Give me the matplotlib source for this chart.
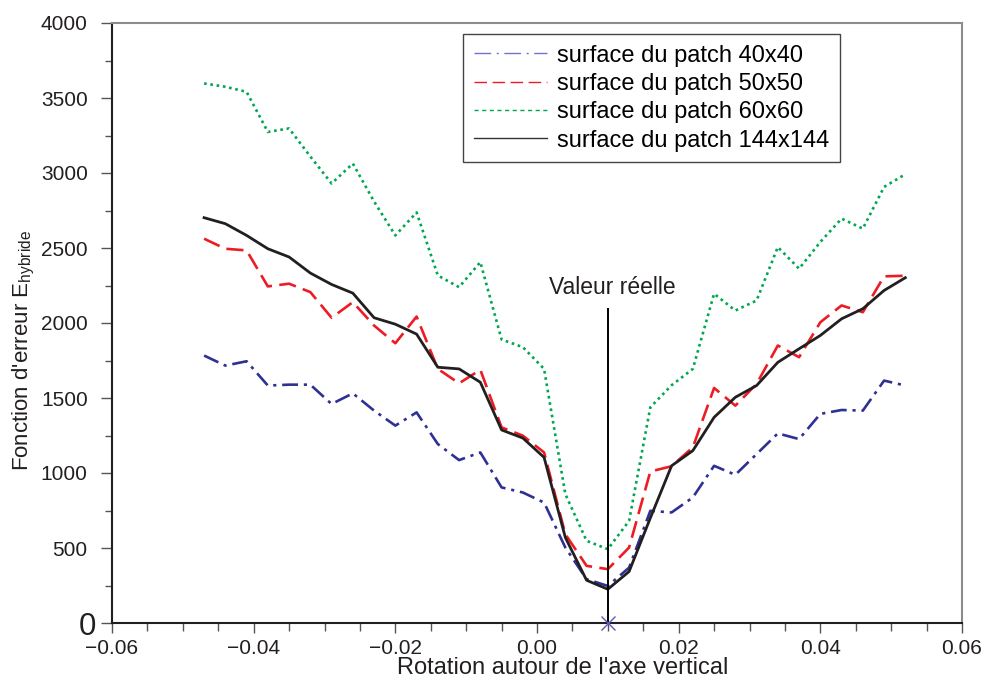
import matplotlib
matplotlib.use("Agg")
import matplotlib.pyplot as plt
from matplotlib.lines import Line2D
from matplotlib.ticker import MultipleLocator, FixedLocator, FixedFormatter

plt.rcParams['font.family'] = ['Liberation Sans', 'DejaVu Sans']
plt.rcParams['mathtext.fontset'] = 'custom'
plt.rcParams['mathtext.rm'] = 'Liberation Sans'
plt.rcParams['axes.unicode_minus'] = True

# Rotation angles sampled around the true value
rotation = [-0.047, -0.044, -0.041, -0.038, -0.035, -0.032, -0.029, -0.026,
            -0.023, -0.020, -0.017, -0.014, -0.011, -0.008, -0.005, -0.002,
            0.001, 0.004, 0.007, 0.010, 0.013, 0.016, 0.019, 0.022, 0.025,
            0.028, 0.031, 0.034, 0.037, 0.040, 0.043, 0.046, 0.049, 0.052]

# Hybrid error function for each patch size
err_40 = [1783, 1716, 1745, 1583, 1589, 1589, 1460, 1531, 1416, 1316, 1404,
          1193, 1086, 1137, 904, 870, 803, 503, 292, 247, 369, 748, 737, 837,
          1048, 988, 1126, 1264, 1226, 1394, 1420, 1416, 1616, 1583]
err_50 = [2562, 2495, 2484, 2244, 2262, 2206, 2035, 2139, 1983, 1865, 2043,
          1694, 1598, 1688, 1304, 1249, 1137, 592, 381, 359, 503, 1010, 1045,
          1171, 1567, 1449, 1594, 1850, 1772, 2005, 2117, 2072, 2311, 2315]
err_60 = [3597, 3575, 3541, 3274, 3297, 3110, 2930, 3063, 2810, 2584, 2737,
          2317, 2239, 2406, 1890, 1839, 1694, 859, 548, 492, 681, 1438, 1585,
          1694, 2195, 2083, 2150, 2506, 2362, 2540, 2696, 2629, 2907, 2992]
err_144 = [2702, 2662, 2584, 2495, 2440, 2333, 2257, 2199, 2035, 1992, 1926,
           1705, 1694, 1605, 1287, 1233, 1104, 570, 285, 225, 343, 700, 1048,
           1149, 1371, 1505, 1583, 1738, 1828, 1917, 2028, 2095, 2217, 2302]

labels = ["surface du patch 40x40", "surface du patch 50x50",
          "surface du patch 60x60", "surface du patch 144x144"]

true_rotation = 0.010
true_marker_top = 2100

x_ticks = [-0.06, -0.04, -0.02, 0.00, 0.02, 0.04, 0.06]
x_tick_labels = ["\u22120.06", "\u22120.04", "\u22120.02", "0.00", "0.02", "0.04", "0.06"]
y_ticks = [0, 500, 1000, 1500, 2000, 2500, 3000, 3500, 4000]
y_tick_labels = ["", "500", "1000", "1500", "2000", "2500", "3000", "3500", "4000"]
y_origin_label = "0"

c_blue = "#2E3192"
c_red = "#ED1C24"
c_green = "#00A651"
c_black = "#231F20"

fig = plt.figure(figsize=(9.91, 6.84), dpi=100)
ax = fig.add_axes([112 / 991, 1 - 623 / 684, 850 / 991, 600 / 684])

lw = 1.9
ax.plot(rotation, err_40, color=c_blue, lw=lw, linestyle=(0, (6, 2.2, 1.2, 2.2)))
ax.plot(rotation, err_50, color=c_red, lw=lw, linestyle=(0, (6.5, 2.8)))
ax.plot(rotation, err_60, color=c_green, lw=lw, linestyle=(0, (1.0, 1.4)))
ax.plot(rotation, err_144, color=c_black, lw=lw + 0.1, linestyle="-")

# true value marker
ax.vlines(true_rotation, 0, true_marker_top, color="black", lw=1.4, zorder=5)
ax.plot([true_rotation], [0], marker="x", ms=10, mew=1.0, color="#5B5BBF",
        clip_on=False, zorder=6)
ax.text(true_rotation + 0.0006, true_marker_top + 95, "Valeur réelle",
        ha="center", va="baseline", fontsize=16.5, color=c_black)

ax.set_xlim(-0.06, 0.06)
ax.set_ylim(0, 4000)

ax.xaxis.set_major_locator(FixedLocator(x_ticks))
ax.xaxis.set_major_formatter(FixedFormatter(x_tick_labels))
ax.xaxis.set_minor_locator(MultipleLocator(0.005))
ax.yaxis.set_major_locator(FixedLocator(y_ticks))
ax.yaxis.set_major_formatter(FixedFormatter(y_tick_labels))
ax.yaxis.set_minor_locator(MultipleLocator(250))

ax.tick_params(axis="x", which="major", direction="out", length=7.2, width=1.0,
               color="#555555", pad=4.5, labelsize=15, labelcolor=c_black)
ax.tick_params(axis="x", which="minor", direction="out", length=5.8, width=1.0,
               color="#555555")
ax.tick_params(axis="y", which="major", direction="out", length=8, width=1.0,
               color="#555555", pad=9.5, labelsize=15, labelcolor=c_black)
ax.tick_params(axis="y", which="minor", direction="out", length=5.4, width=1.0,
               color="#555555")

# larger origin label, set closer to the axis
ax.annotate(y_origin_label, xy=(0, 0), xycoords="axes fraction",
            xytext=(-15.4, -11.7), textcoords="offset pixels",
            ha="right", va="baseline", fontsize=22.5, color=c_black,
            annotation_clip=False)

for side in ("left", "bottom"):
    ax.spines[side].set_color("#231F20")
    ax.spines[side].set_linewidth(1.5)
for side in ("top", "right"):
    ax.spines[side].set_color("#8C8C8C")
    ax.spines[side].set_linewidth(1.5)

fig.text(563 / 991, 1 - 668 / 684, "Rotation autour de l'axe vertical",
         ha="center", va="center", fontsize=17, color=c_black)
fig.text(24 / 991, 1 - 350 / 684, r"Fonction d'erreur E$_{\mathregular{hybride}}$",
         ha="center", va="center", rotation=90, fontsize=16, color=c_black)

handles = [
    Line2D([], [], color="#6F73CC", lw=1.0, linestyle=(0, (12, 4, 1.5, 4))),
    Line2D([], [], color=c_red, lw=1.0, linestyle=(0, (9, 4))),
    Line2D([], [], color=c_green, lw=1.0, linestyle=(0, (3, 2.5))),
    Line2D([], [], color="#333333", lw=1.0, linestyle="-"),
]
leg = ax.legend(handles, labels, loc="upper left",
                bbox_to_anchor=(463 / 991, 1 - 34 / 684),
                bbox_transform=fig.transFigure, borderaxespad=0,
                fontsize=17, handlelength=3.1, handletextpad=0.43,
                labelspacing=0.27, borderpad=0.45, fancybox=False,
                framealpha=1, edgecolor="#444444")
leg.get_frame().set_linewidth(1.0)

fig.savefig("out.png", dpi=100)
